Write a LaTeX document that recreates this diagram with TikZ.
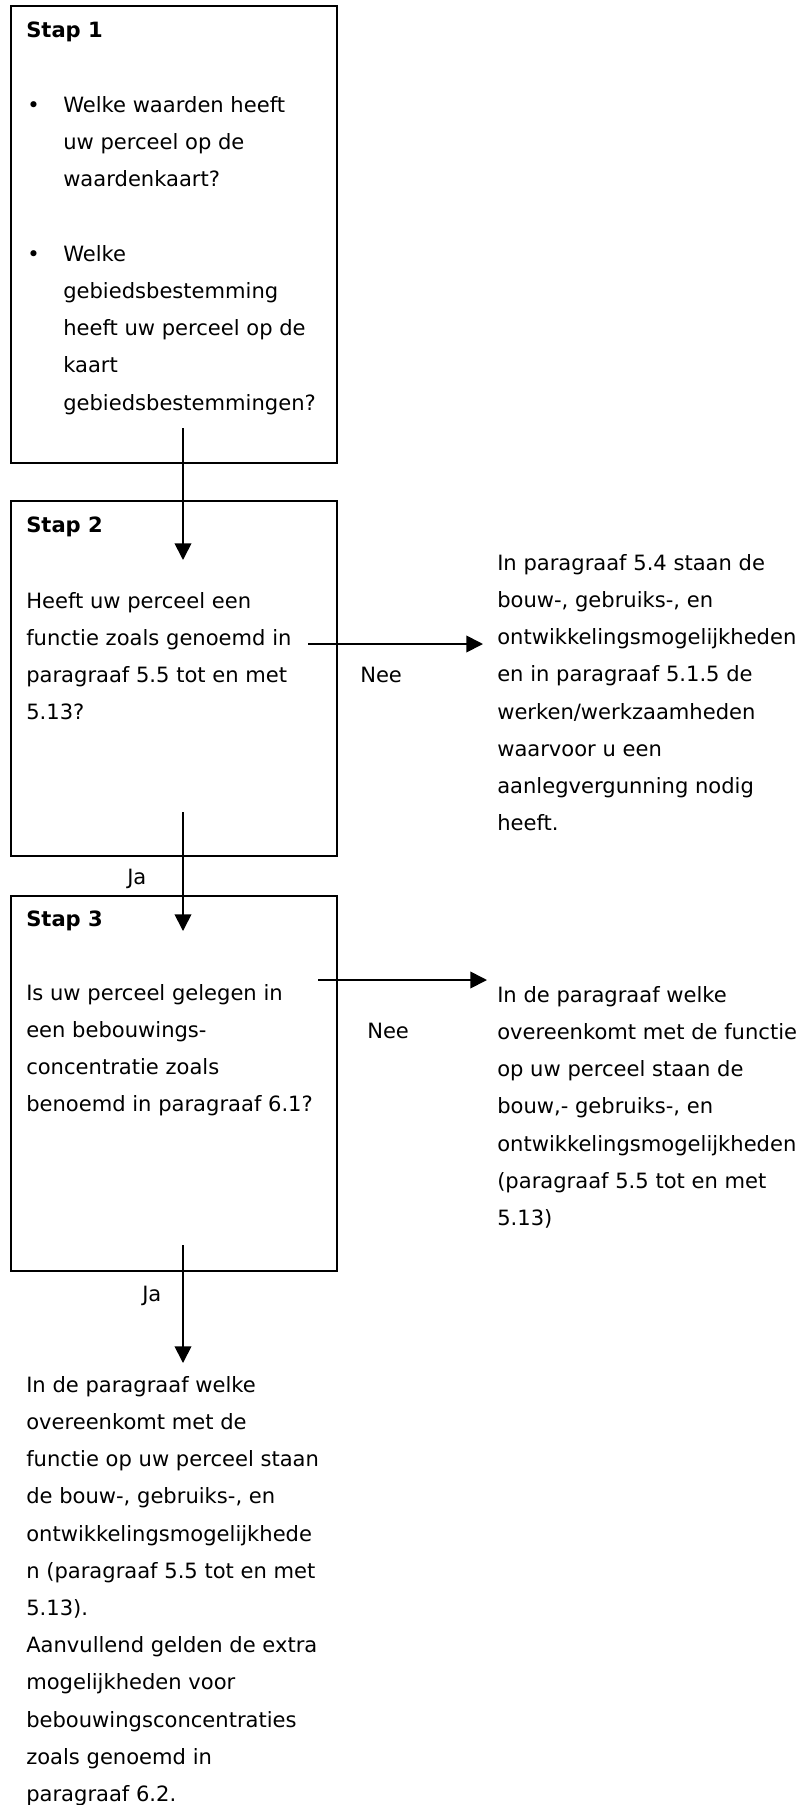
\documentclass[tikz,border=0pt]{standalone}
\usepackage{fontspec}
\setmainfont{DejaVu Sans}
\usetikzlibrary{arrows.meta,fit}

\begin{document}
\begin{tikzpicture}[
    x=0.75pt, y=-0.75pt,
    box/.style={rectangle, draw, line width=1.5pt, inner sep=0pt},
    txt/.style={anchor=north west, yshift=19.53pt, align=left, inner sep=0pt,
        font=\fontsize{15.8}{27.9}\selectfont, execute at begin node=\strut},
    kop/.style={txt, font=\fontsize{15.8}{27.9}\selectfont\bfseries},
    arrow/.style={-{Triangle[length=12.5pt,width=12.5pt]}, line width=1.3pt}
]
    \useasboundingbox (0,0) rectangle (800,1805);

    % Stap 1
    \node[box, fit={(11,6) (337,463)}] (stap1) {};
    \node[kop] (kop1) at (26,37) {Stap 1};
    \node[txt] (bol1) at (27,112) {\textbullet};
    \node[txt] (vraag1a) at (63,112) {\strut Welke waarden heeft\\uw perceel op de\\waardenkaart?};
    \node[txt] (bol2) at (27,261) {\textbullet};
    \node[txt] (vraag1b) at (63,261) {\strut Welke\\gebiedsbestemming\\heeft uw perceel op de\\kaart\\gebiedsbestemmingen?};

    % Stap 2
    \node[box, fit={(11,501) (337,856)}] (stap2) {};
    \node[kop] (kop2) at (26,532) {Stap 2};
    \node[txt] (vraag2) at (26,608) {\strut Heeft uw perceel een\\functie zoals genoemd in\\paragraaf 5.5 tot en met\\5.13?};

    % Stap 3
    \node[box, fit={(11,896) (337,1271)}] (stap3) {};
    \node[kop] (kop3) at (26,926) {Stap 3};
    \node[txt] (vraag3) at (26,1000) {\strut Is uw perceel gelegen in\\een bebouwings-\\concentratie zoals\\benoemd in paragraaf 6.1?};

    % uitkomsten
    \node[txt] (uit2) at (497,570) {\strut In paragraaf 5.4 staan de\\bouw-, gebruiks-, en\\ontwikkelingsmogelijkheden\\en in paragraaf 5.1.5 de\\werken/werkzaamheden\\waarvoor u een\\aanlegvergunning nodig\\heeft.};
    \node[txt] (uit3) at (497,1002) {\strut In de paragraaf welke\\overeenkomt met de functie\\op uw perceel staan de\\bouw,- gebruiks-, en\\ontwikkelingsmogelijkheden\\(paragraaf 5.5 tot en met\\5.13)};
    \node[txt] (uit4) at (26,1392) {\strut In de paragraaf welke\\overeenkomt met de\\functie op uw perceel staan\\de bouw-, gebruiks-, en\\ontwikkelingsmogelijkhede\\n (paragraaf 5.5 tot en met\\5.13).\\Aanvullend gelden de extra\\mogelijkheden voor\\bebouwingsconcentraties\\zoals genoemd in\\paragraaf 6.2.};

    % labels
    \node[txt] (nee2) at (360,682) {Nee};
    \node[txt] (nee3) at (367,1038) {Nee};
    \node[txt] (ja2) at (127,884) {Ja};
    \node[txt] (ja3) at (142,1301) {Ja};

    % pijlen
    \coordinate (p1a) at (183,428);
    \coordinate (p1b) at (183,560);
    \coordinate (p2a) at (183,812);
    \coordinate (p2b) at (183,931);
    \coordinate (p3a) at (183,1245);
    \coordinate (p3b) at (183,1363);
    \coordinate (h2a) at (308,644);
    \coordinate (h2b) at (483,644);
    \coordinate (h3a) at (318,980);
    \coordinate (h3b) at (487,980);

    \draw[arrow] (p1a) -- (p1b);
    \draw[arrow] (p2a) -- (p2b);
    \draw[arrow] (p3a) -- (p3b);
    \draw[arrow] (h2a) -- (h2b);
    \draw[arrow] (h3a) -- (h3b);
\end{tikzpicture}
\end{document}
